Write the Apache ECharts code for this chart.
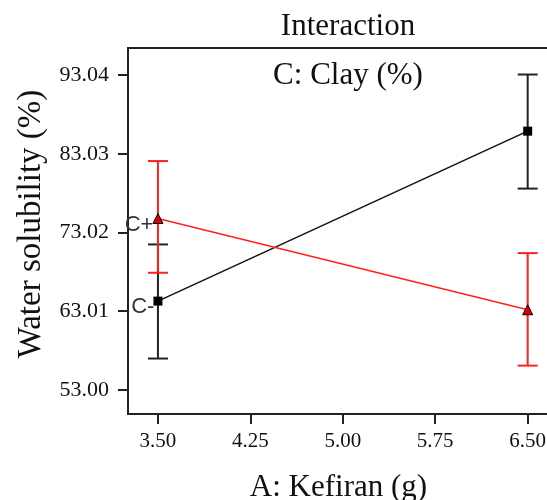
<!DOCTYPE html>
<html>
<head>
<meta charset="utf-8">
<script src="https://cdn.jsdelivr.net/npm/echarts@6/dist/echarts.min.js"></script>
<style>
  html, body { margin: 0; padding: 0; background: #fff; }
  #chart { width: 547px; height: 500px; }
</style>
</head>
<body>
<div id="chart"></div>
<script>
// kefiran levels (g)
const kefiran = [3.5, 6.5];
// C- (low clay) and C+ (high clay) means
const lowClay = [64.3, 85.9];
const highClay = [74.8, 63.2];
// error bar limits
const lowClayLo = [57.0, 78.6];
const lowClayHi = [71.5, 93.1];
const highClayLo = [67.9, 56.1];
const highClayHi = [82.1, 70.4];
// tick labels
const xTicks = [3.5, 4.25, 5.0, 5.75, 6.5];
const yTicks = [53.0, 63.01, 73.02, 83.03, 93.04];
const seriesNames = ['C-', 'C+'];

const serif = 'Liberation Serif';
const chart = echarts.init(document.getElementById('chart'));

function errorBars(color) {
  return function (params, api) {
    const x = api.value(0);
    const lo = api.coord([x, api.value(1)]);
    const hi = api.coord([x, api.value(2)]);
    const hw = 10;
    const st = { stroke: color, lineWidth: 2 };
    return {
      type: 'group',
      children: [
        { type: 'line', shape: { x1: lo[0], y1: lo[1], x2: hi[0], y2: hi[1] }, style: st },
        { type: 'line', shape: { x1: lo[0] - hw, y1: lo[1], x2: lo[0] + hw, y2: lo[1] }, style: st },
        { type: 'line', shape: { x1: hi[0] - hw, y1: hi[1], x2: hi[0] + hw, y2: hi[1] }, style: st }
      ]
    };
  };
}

const pointLabel = {
  show: true,
  position: 'left',
  distance: -1,
  offset: [0, 6],
  fontFamily: 'Liberation Sans',
  fontSize: 22,
  color: '#333',
  formatter: function (p) { return p.dataIndex === 0 ? p.seriesName : ''; }
};

chart.setOption({
  animation: false,
  title: [
    {
      text: 'Interaction', left: 343, top: 6, textAlign: 'center',
      textStyle: { fontFamily: serif, fontSize: 31, fontWeight: 'normal', color: '#111' }
    },
    {
      text: 'C: Clay (%)', left: 343, top: 55, textAlign: 'center',
      textStyle: { fontFamily: serif, fontSize: 31, fontWeight: 'normal', color: '#111' }
    }
  ],
  grid: {
    left: 128, top: 48, right: -2, bottom: 86,
    outerBoundsMode: 'none', containLabel: false,
    show: true, borderColor: '#222', borderWidth: 2, backgroundColor: 'transparent'
  },
  xAxis: {
    type: 'value',
    min: 3.257, max: 6.673,
    name: 'A: Kefiran (g)',
    nameLocation: 'middle',
    nameGap: 58,
    nameTextStyle: { fontFamily: serif, fontSize: 31, color: '#111' },
    splitLine: { show: false },
    axisLine: { lineStyle: { color: '#222', width: 2 } },
    axisTick: { show: true, length: 10, customValues: xTicks, lineStyle: { color: '#222', width: 2 } },
    axisLabel: {
      customValues: xTicks, margin: 17,
      fontFamily: serif, fontSize: 21, color: '#111',
      formatter: function (v) { return v.toFixed(2); }
    }
  },
  yAxis: {
    type: 'value',
    min: 49.95, max: 96.47,
    name: 'Water solubility (%)',
    nameLocation: 'middle',
    nameGap: 80,
    nameTextStyle: { fontFamily: serif, fontSize: 33, color: '#111', padding: [0, 0, 0, 14] },
    splitLine: { show: false },
    axisLine: { show: true, lineStyle: { color: '#222', width: 2 } },
    axisTick: { show: true, length: 10, customValues: yTicks, lineStyle: { color: '#222', width: 2 } },
    axisLabel: {
      customValues: yTicks, margin: 19,
      fontFamily: serif, fontSize: 22, color: '#111',
      formatter: function (v) { return v.toFixed(2); }
    }
  },
  series: [
    {
      type: 'custom',
      renderItem: errorBars('#222'),
      data: kefiran.map(function (x, i) { return [x, lowClayLo[i], lowClayHi[i]]; }),
      encode: { x: 0, y: [1, 2] },
      z: 1
    },
    {
      type: 'custom',
      renderItem: errorBars('#ff2020'),
      data: kefiran.map(function (x, i) { return [x, highClayLo[i], highClayHi[i]]; }),
      encode: { x: 0, y: [1, 2] },
      z: 2
    },
    {
      name: seriesNames[0],
      type: 'line',
      data: kefiran.map(function (x, i) { return [x, lowClay[i]]; }),
      symbol: 'rect', symbolSize: 9,
      itemStyle: { color: '#000' },
      lineStyle: { color: '#111', width: 1.5 },
      label: pointLabel,
      z: 3
    },
    {
      name: seriesNames[1],
      type: 'line',
      data: kefiran.map(function (x, i) { return [x, highClay[i]]; }),
      symbol: 'triangle', symbolSize: 10,
      itemStyle: { color: '#e00000', borderColor: '#000', borderWidth: 1 },
      lineStyle: { color: '#ff2020', width: 1.5 },
      label: pointLabel,
      z: 4
    }
  ]
});
</script>
</body>
</html>
